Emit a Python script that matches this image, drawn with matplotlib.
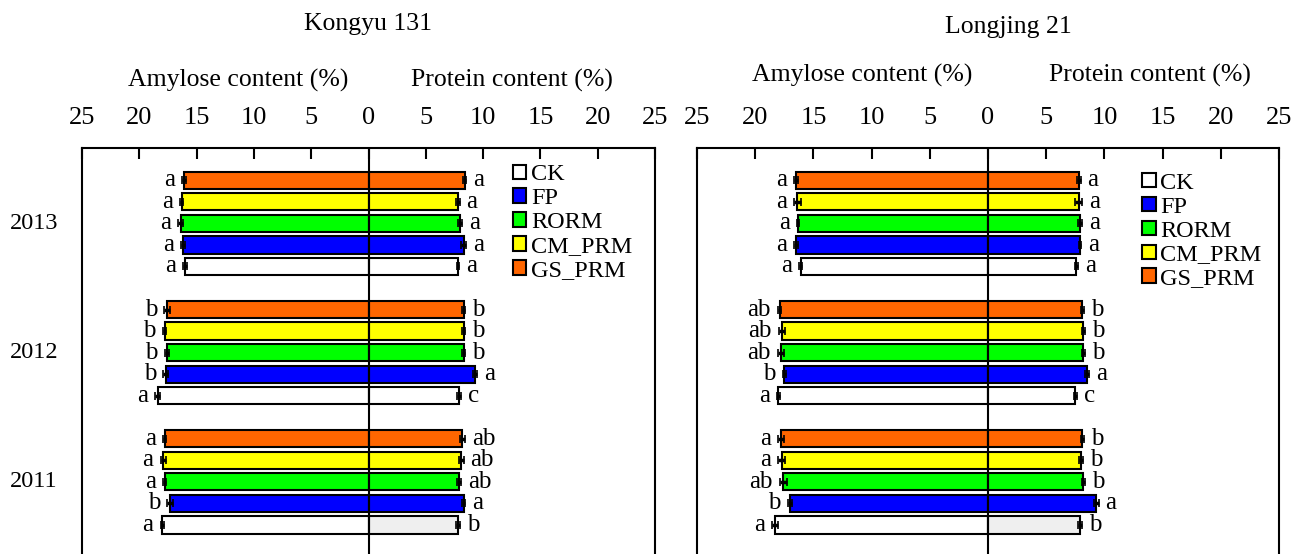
import matplotlib.pyplot as plt
from matplotlib.patches import Patch
from matplotlib.transforms import blended_transform_factory

plt.rcParams['font.family'] = ['Liberation Serif', 'DejaVu Serif']

# Treatments in legend order; years from top to bottom
treatments = ['CK', 'FP', 'RORM', 'CM_PRM', 'GS_PRM']
colors = ['#FFFFFF', '#0000FF', '#00FF00', '#FFFF00', '#FF6600']
years = ['2013', '2012', '2011']

# Kongyu 131
ky_amylose = [[16.0, 16.2, 16.4, 16.3, 16.1],
              [18.4, 17.7, 17.6, 17.8, 17.6],
              [18.0, 17.3, 17.8, 17.9, 17.8]]
ky_amylose_err = [[0.15, 0.15, 0.25, 0.15, 0.15],
                  [0.2, 0.2, 0.2, 0.15, 0.25],
                  [0.15, 0.25, 0.15, 0.25, 0.15]]
ky_protein = [[7.8, 8.3, 8.0, 7.8, 8.4],
              [7.9, 9.3, 8.3, 8.3, 8.3],
              [7.8, 8.3, 7.9, 8.1, 8.2]]
ky_protein_err = [[0.1, 0.25, 0.15, 0.15, 0.15],
                  [0.15, 0.15, 0.1, 0.1, 0.15],
                  [0.2, 0.15, 0.2, 0.2, 0.2]]
ky_amylose_sig = [['a', 'a', 'a', 'a', 'a'],
                  ['a', 'b', 'b', 'b', 'b'],
                  ['a', 'b', 'a', 'a', 'a']]
ky_protein_sig = [['a', 'a', 'a', 'a', 'a'],
                  ['c', 'a', 'b', 'b', 'b'],
                  ['b', 'a', 'ab', 'ab', 'ab']]

# Longjing 21
lj_amylose = [[16.1, 16.5, 16.3, 16.4, 16.5],
              [18.0, 17.5, 17.8, 17.7, 17.9],
              [18.3, 17.0, 17.6, 17.7, 17.8]]
lj_amylose_err = [[0.15, 0.15, 0.1, 0.3, 0.15],
                  [0.15, 0.15, 0.25, 0.25, 0.15],
                  [0.25, 0.2, 0.3, 0.3, 0.25]]
lj_protein = [[7.6, 7.9, 7.9, 7.8, 7.8],
              [7.5, 8.5, 8.2, 8.2, 8.1],
              [7.9, 9.3, 8.2, 8.0, 8.1]]
lj_protein_err = [[0.15, 0.1, 0.15, 0.3, 0.15],
                  [0.15, 0.15, 0.15, 0.1, 0.15],
                  [0.2, 0.2, 0.15, 0.15, 0.15]]
lj_amylose_sig = [['a', 'a', 'a', 'a', 'a'],
                  ['a', 'b', 'ab', 'ab', 'ab'],
                  ['a', 'b', 'ab', 'a', 'a']]
lj_protein_sig = [['a', 'a', 'a', 'a', 'a'],
                  ['c', 'a', 'b', 'b', 'b'],
                  ['b', 'a', 'b', 'b', 'b']]

xticks = [-25, -20, -15, -10, -5, 0, 5, 10, 15, 20, 25]

W, H = 1306, 554
fig = plt.figure(figsize=(W / 100, H / 100), dpi=100)

top_px, bottom_px = 148, 559.4


def panel(rect_px, amy, amy_err, pro, pro_err, amy_sig, pro_sig, year_labels, legend_pos, legend_sp):
    x0, x1 = rect_px
    ax = fig.add_axes([x0 / W, (H - bottom_px) / H, (x1 - x0) / W, (bottom_px - top_px) / H])
    for g in range(len(years)):
        for t in range(len(treatments)):
            y = g * 6 + (4 - t)
            fc = colors[t]
            pc = '#EFEFEF' if (t == 0 and years[g] == '2011') else fc
            ax.barh(y, -amy[g][t], height=0.8, color=fc, edgecolor='black', linewidth=1.5, zorder=2)
            ax.barh(y, pro[g][t], height=0.8, color=pc, edgecolor='black', linewidth=1.5, zorder=2)
            ax.errorbar(-amy[g][t], y, xerr=amy_err[g][t], fmt='none', ecolor='black',
                        elinewidth=2.5, capsize=3, capthick=1.2, zorder=3)
            ax.errorbar(pro[g][t], y, xerr=pro_err[g][t], fmt='none', ecolor='black',
                        elinewidth=2.5, capsize=3, capthick=1.2, zorder=3)
            ax.text(-amy[g][t] - amy_err[g][t] - 0.6, y, amy_sig[g][t], ha='right', va='center',
                    fontsize=18)
            ax.text(pro[g][t] + pro_err[g][t] + 0.6, y, pro_sig[g][t], ha='left', va='center',
                    fontsize=18)
    ax.axvline(0, color='black', linewidth=1.5, zorder=4)
    ax.set_xlim(-25, 25)
    ax.set_ylim(17.6, -1.5)
    ax.set_yticks([])
    ax.set_xticks(xticks)
    ax.set_xticklabels([str(abs(v)) for v in xticks])
    ax.xaxis.tick_top()
    ax.tick_params(axis='x', direction='in', length=8, width=1.5, pad=14, labelsize=19)
    for s in ['top', 'left', 'right', 'bottom']:
        ax.spines[s].set_linewidth(1.5)
    if year_labels:
        tr = blended_transform_factory(ax.transAxes, ax.transData)
        for g, yr in enumerate(years):
            ax.text(-0.084, g * 6 + 2, yr, transform=tr, ha='center', va='center', fontsize=17.5)
    handles = [Patch(facecolor=c, edgecolor='black', linewidth=1.5) for c in colors]
    ax.legend(handles, treatments, loc='upper left', bbox_to_anchor=legend_pos, frameon=False,
              fontsize=17.5, handlelength=0.55, handleheight=0.55, handletextpad=0.2,
              labelspacing=legend_sp, borderpad=0, borderaxespad=0)
    return ax


panel((82, 655), ky_amylose, ky_amylose_err, ky_protein, ky_protein_err,
      ky_amylose_sig, ky_protein_sig, True, (0.752, 0.96), 0.12)
panel((697, 1279), lj_amylose, lj_amylose_err, lj_protein, lj_protein_err,
      lj_amylose_sig, lj_protein_sig, False, (0.765, 0.94), 0.12)

fig.text(368 / W, (H - 24) / H, 'Kongyu 131', ha='center', va='center', fontsize=18.5)
fig.text(1008 / W, (H - 27) / H, 'Longjing 21', ha='center', va='center', fontsize=18.5)
fig.text(238 / W, (H - 80) / H, 'Amylose content (%)', ha='center', va='center', fontsize=18.5)
fig.text(512 / W, (H - 80) / H, 'Protein content (%)', ha='center', va='center', fontsize=18.5)
fig.text(862 / W, (H - 75) / H, 'Amylose content (%)', ha='center', va='center', fontsize=18.5)
fig.text(1150 / W, (H - 75) / H, 'Protein content (%)', ha='center', va='center', fontsize=18.5)

fig.savefig('out.png', dpi=100)
